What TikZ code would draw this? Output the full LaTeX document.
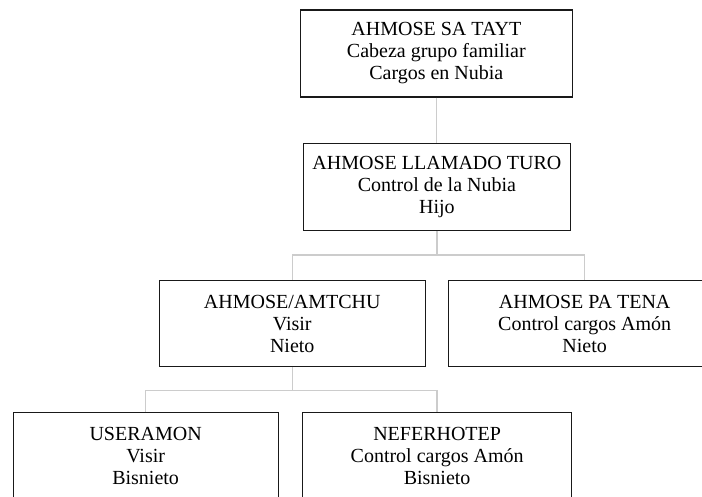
\documentclass[tikz,border=0pt]{standalone}
\usepackage{fontspec}
\setmainfont{Liberation Serif}
\begin{document}
\begin{tikzpicture}[x=1pt,y=1pt,
  box/.style={draw=black!90, line width=1.3pt, anchor=north west, align=center,
    inner sep=2pt, font=\fontsize{20}{22}\selectfont},
  conn/.style={draw=black!20, line width=1.5pt}]
\useasboundingbox (0,0) rectangle (702,-497);
\node[box, minimum width=272pt, minimum height=87pt] (b1) at (299.7,-9.3)
  {AHMOSE SA TAYT\\Cabeza grupo familiar\\Cargos en Nubia};
\node[box, minimum width=267.5pt, minimum height=87pt] (b2) at (302.5,-142.7)
  {AHMOSE LLAMADO TURO\\Control de la Nubia\\Hijo};
\node[box, minimum width=266pt, minimum height=86pt] (b3) at (158.6,-280)
  {AHMOSE/AMTCHU\\Visir\\Nieto};
\node[box, minimum width=272pt, minimum height=86pt] (b4) at (448,-280)
  {AHMOSE PA TENA\\Control cargos Amón\\Nieto};
\node[box, minimum width=265pt, minimum height=87pt] (b5) at (12.5,-412)
  {USERAMON\\Visir\\Bisnieto};
\node[box, minimum width=269pt, minimum height=87pt] (b6) at (302,-412)
  {NEFERHOTEP\\Control cargos Amón\\Bisnieto};
\draw[conn] (b1.south) -- (b1.south |- b2.north);
\draw[conn] (b2.south) -- ++(0,-24) coordinate (j1);
\draw[conn] (b3.north) |- (j1) -| (b4.north);
\draw[conn] (b3.south) -- ++(0,-23) coordinate (j2);
\draw[conn] (b5.north) |- (j2) -| (b6.north);
\end{tikzpicture}
\end{document}
